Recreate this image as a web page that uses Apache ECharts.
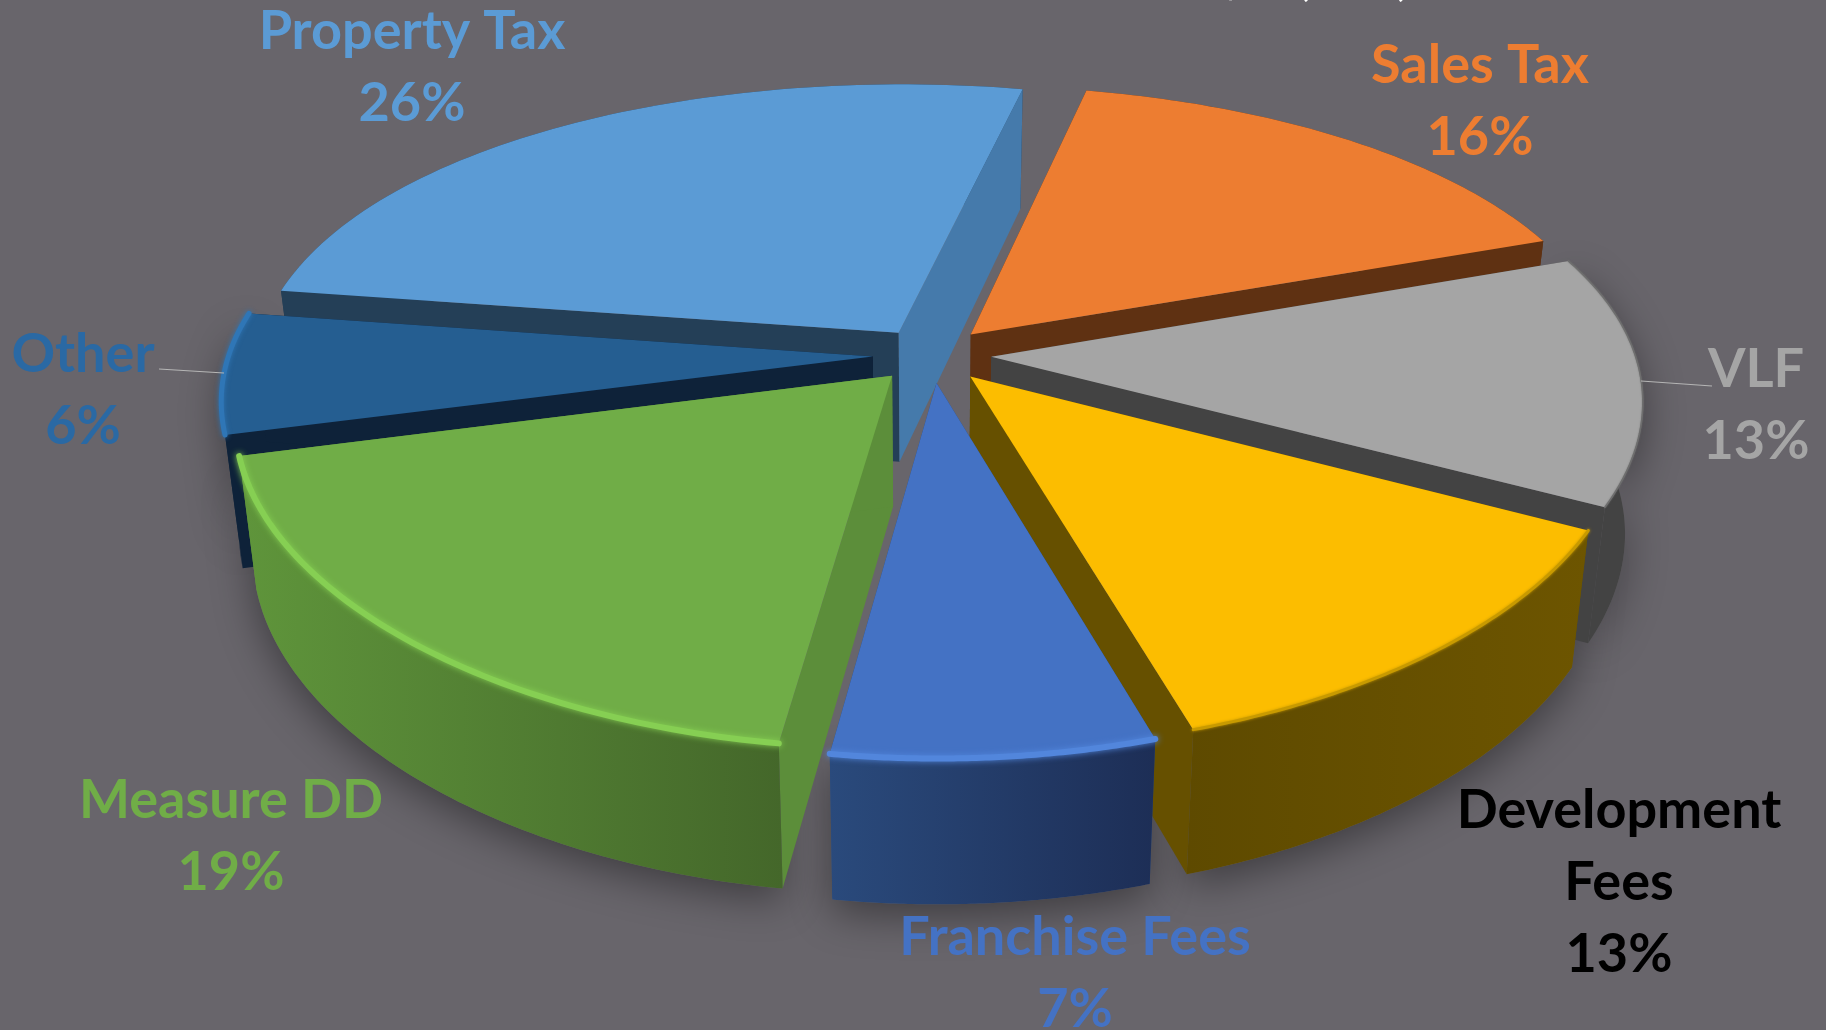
<!DOCTYPE html>
<html><head><meta charset="utf-8">
<style>html,body{margin:0;padding:0;background:#68656b;overflow:hidden}#c{width:1826px;height:1030px}</style>
<script src="https://cdn.jsdelivr.net/npm/echarts@6/dist/echarts.min.js"></script>
</head><body><div id="c"></div>
<script>
// data, clockwise from the Sales Tax slice (shares; labels show them rounded)
const categories = ['Sales Tax','VLF','Development\nFees','Franchise Fees','Measure DD','Other','Property Tax'];
const shares = [16.08,13.14,12.67,6.97,18.69,6.39,26.06];
const titleText = '$26,593,693';

// styles
const topColors  = ['#ed7d31','#a5a5a5','#fcbd00','#4472c4','#70ad47','#255e91','#5b9bd5'];
const textColors = ['#ed7d31','#a5a5a5','#000000','#4472c4','#70ad47','#2a69a4','#5b9bd5'];
const startCut   = ['#5f3112','#434343','#665000','#2a4a7c','#5c8e3a','#0e2239','#243f57'];
const endCut     = ['#5f3112','#434343','#665000','#2a4a7c','#5c8e3a','#0e2239','#457aab'];
const wallLeft   = ['#5f3112','#434343','#5e4a00','#2a4a7c','#5f953b','#0e2239','#243f57'];
const wallRight  = ['#5f3112','#434343','#6d5500','#1d2e56','#44672a','#0e2239','#243f57'];
const bevel      = ['#ed7d31','#6e6e6e','#c89a00','#5286dc','#86cf53','#2f76b6','#5b9bd5'];
const bevelWidth = [0,1.5,3,6,6,5,0];
const paint      = [1,2,3,4,3,2,1];
const labelX     = [1480,1756,1619,1075,231,83,412];
const labelY     = [102,406,883,974,837,391,68];
const leaders    = {1:[[1641,381],[1712,386]], 5:[[159,369],[224,373]]};

// projection
const cx=932, cy=355, rx=644, ry=299, kY=0.175, kX=0.135, startDeg=12.3, explode=0.092, FONT='Lato';
function proj(u,v){return [cx+rx*u/(1+kX*v), cy-ry*v/(1+kY*v), 1/(1+kY*v)];}
function drop(p){return [cx+(p[0]-cx)*0.975, p[1]+63+67*p[2]];}
const total = shares.reduce((a,b)=>a+b,0);

function renderItem(params, api){
  const i = params.dataIndex, value = api.value(0);
  let before = 0; for(let j=0;j<i;j++) before += shares[j];
  const a0 = (startDeg+before/total*360)*Math.PI/180;
  const a1 = a0+value/total*2*Math.PI, mid=(a0+a1)/2;
  const ox = Math.sin(mid)*explode, oy = Math.cos(mid)*explode;
  const rim=[]; const N=72;
  for(let n=0;n<=N;n++){const a=a0+(a1-a0)*n/N; rim.push(proj(ox+Math.sin(a),oy+Math.cos(a)));}
  const apex = proj(ox,oy);
  const rimLow = rim.map(drop), apexLow = drop(apex);
  const xy = p=>[p[0],p[1]];
  const z = paint[i];
  const front = Math.cos(mid)<0.2;
  const poly=(pts,fill)=>({type:'polygon',shape:{points:pts.map(xy)},z2:z,silent:true,style:{fill:fill,lineJoin:'round'}});
  const wall = rim.map(xy).concat(rimLow.slice().reverse().map(xy));
  const wallEl = poly(wall,{type:'linear',x:0,y:0,x2:1,y2:0,colorStops:[{offset:0,color:wallLeft[i]},{offset:1,color:wallRight[i]}]});
  const cuts = [poly([apex,rim[0],rimLow[0],apexLow],startCut[i]), poly([apex,rim[N],rimLow[N],apexLow],endCut[i])];
  const kids=[];
  if(front) kids.push({type:'polygon',shape:{points:wall},z2:0,silent:true,
     style:{fill:'#68656b',shadowColor:'rgba(0,0,0,0.4)',shadowBlur:40,shadowOffsetY:12}});
  if(front) kids.push(cuts[0],cuts[1],wallEl); else kids.push(wallEl,cuts[0],cuts[1]);
  kids.push(poly([apex].concat(rim),topColors[i]));
  if(bevelWidth[i]) kids.push({type:'polyline',shape:{points:rim.map(xy)},z2:z,silent:true,
     style:{fill:null,stroke:bevel[i],lineWidth:bevelWidth[i],lineCap:'round',shadowColor:bevel[i],shadowBlur:bevelWidth[i]}});
  kids.push({type:'text',z2:20,silent:true,x:labelX[i],y:labelY[i],
     style:{text:categories[i]+'\n'+Math.round(value)+'%',fill:textColors[i],font:'bold 54px '+FONT,
            align:'center',verticalAlign:'middle',lineHeight:72}});
  if(leaders[i]) kids.push({type:'polyline',shape:{points:leaders[i]},z2:20,silent:true,
     style:{fill:null,stroke:'#b5b5b5',lineWidth:1.2}});
  return {type:'group',children:kids};
}

const chart = echarts.init(document.getElementById('c'),null,{renderer:'canvas'});
chart.setOption({
  backgroundColor:'#68656b',
  animation:false,
  tooltip:{show:false},
  graphic:[{type:'text',x:1355,y:-44,silent:true,
    style:{text:titleText,fill:'#ffffff',font:'bold 48px '+FONT,align:'center',verticalAlign:'top'}}],
  series:[{type:'custom',coordinateSystem:'none',renderItem:renderItem,
    data:shares.map((v,i)=>({name:categories[i],value:[v]}))}]
});
</script></body></html>
